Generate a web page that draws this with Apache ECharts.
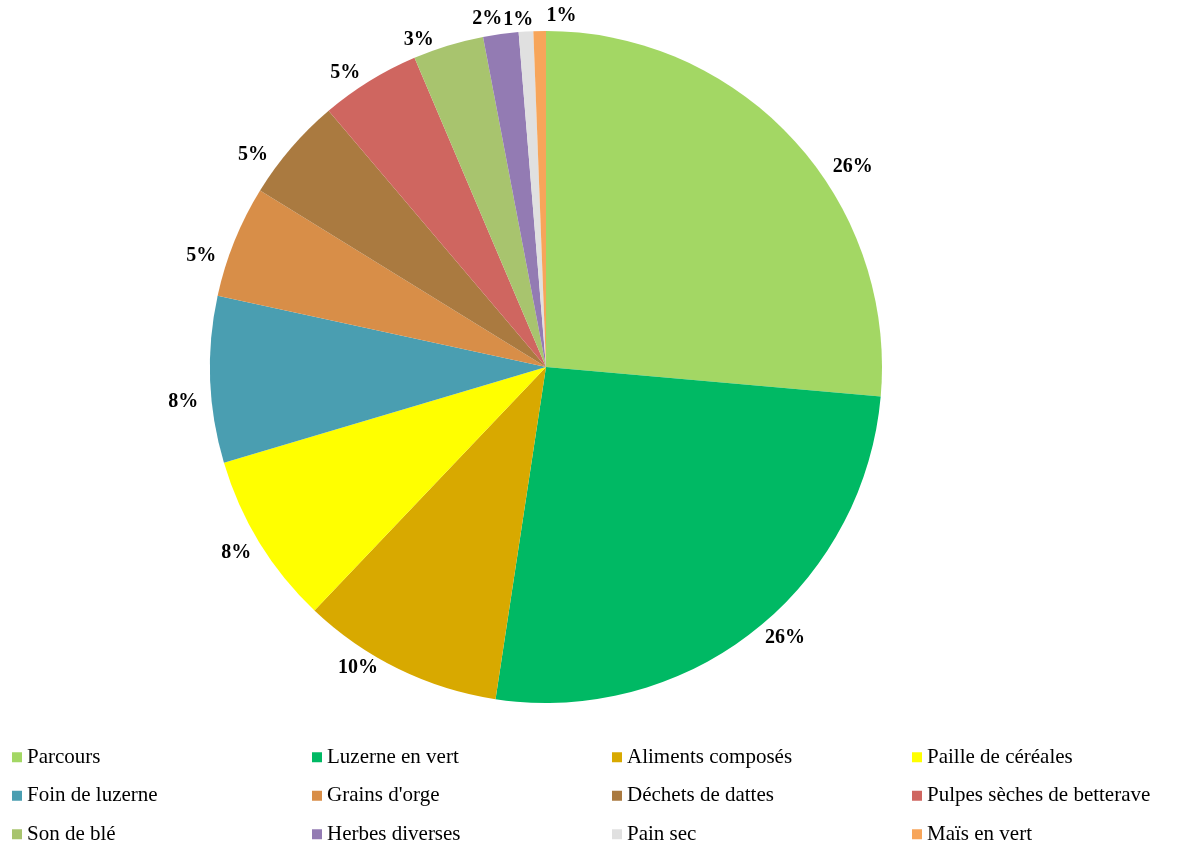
<!DOCTYPE html>
<html>
<head>
<meta charset="utf-8">
<script src="https://cdn.jsdelivr.net/npm/echarts@6/dist/echarts.min.js"></script>
<style>
  html, body { margin: 0; padding: 0; background: #fff; }
  #chart { width: 1193px; height: 847px; }
</style>
</head>
<body>
<div id="chart"></div>
<script>
// Feed composition (share of ration, %), clockwise from 12 o'clock
const categories = [
  'Parcours', 'Luzerne en vert', 'Aliments composés', 'Paille de céréales',
  'Foin de luzerne', "Grains d'orge", 'Déchets de dattes', 'Pulpes sèches de betterave',
  'Son de blé', 'Herbes diverses', 'Pain sec', 'Maïs en vert'
];
const shares = [26.4, 26.0, 9.7, 8.3, 8.0, 5.4, 5.0, 4.8, 3.4, 1.7, 0.7, 0.6];
const colors = [
  '#a3d764', '#00b964', '#d8a900', '#ffff00',
  '#4a9eb1', '#d88e48', '#aa7a40', '#cf6660',
  '#a8c46e', '#937bb3', '#e0e0e0', '#f7a55a'
];
// Small nudges [dx, dy] so the outside labels sit clear of each other
const labelNudges = [
  [25, 35], [-1, -3], [-10, -12], [7, 4],
  [5, 22], [-2, 19], [-9, 15], [2, 2],
  [-6, 6], [8, -3], [13, 0], [42, -3]
];

const serif = '"Liberation Serif", "Times New Roman", serif';
const chart = echarts.init(document.getElementById('chart'), null, { renderer: 'canvas' });

const pieData = categories.map((name, i) => ({
  name: name,
  value: shares[i],
  itemStyle: { color: colors[i] },
  label: { offset: labelNudges[i] }
}));

// Legend grid: fixed-width text for the first three columns keeps the columns aligned
const legendData = categories.map((name, i) => (
  i % 4 === 3 ? { name: name } : { name: name, textStyle: { width: 269 } }
));

chart.setOption({
  animation: false,
  backgroundColor: '#ffffff',
  legend: {
    data: legendData,
    left: 12,
    top: 746,
    padding: 0,
    orient: 'horizontal',
    icon: 'rect',
    itemWidth: 10,
    itemHeight: 10,
    itemGap: 16,
    textStyle: {
      fontFamily: serif,
      fontSize: 21,
      color: '#000',
      lineHeight: 22.5
    }
  },
  series: [{
    type: 'pie',
    center: [546, 367],
    radius: 336,
    startAngle: 90,
    clockwise: true,
    avoidLabelOverlap: false,
    data: pieData,
    itemStyle: { borderWidth: 0 },
    label: {
      show: true,
      position: 'outside',
      fontFamily: serif,
      fontSize: 20,
      fontWeight: 'bold',
      color: '#000',
      formatter: p => Math.round(p.value) + '%'
    },
    labelLine: { show: false, length: 12, length2: 0 },
    labelLayout: { hideOverlap: false },
    emphasis: { disabled: true }
  }]
});
</script>
</body>
</html>
